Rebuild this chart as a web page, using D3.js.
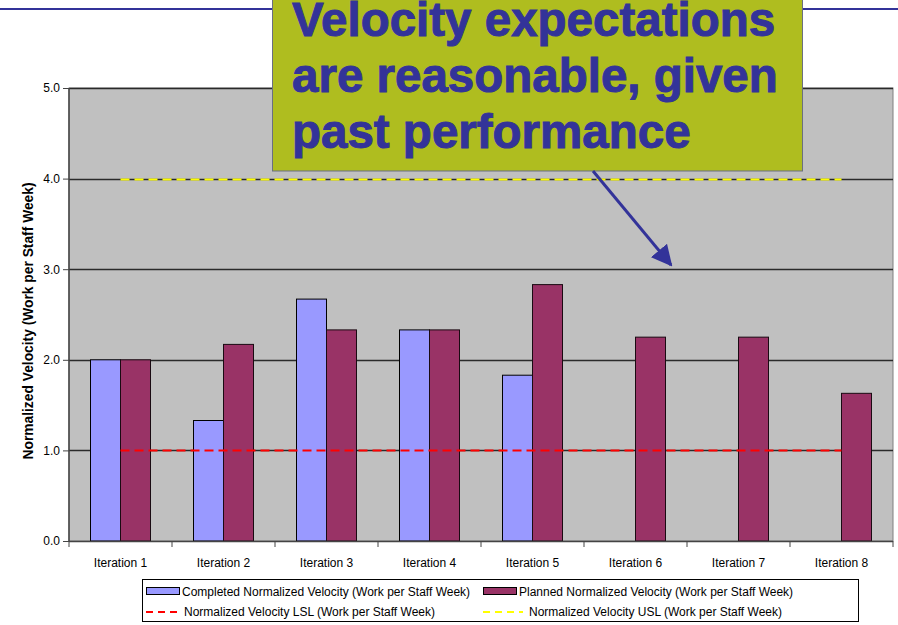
<!DOCTYPE html>
<html><head><meta charset="utf-8">
<script src="https://cdn.jsdelivr.net/npm/d3@7"></script>
<style>body{margin:0;background:#fff}svg{display:block;font-family:"Liberation Sans",Arial,sans-serif}</style>
</head><body>
<svg id="c" width="898" height="625"></svg>
<script>
const categories = ["Iteration 1","Iteration 2","Iteration 3","Iteration 4","Iteration 5","Iteration 6","Iteration 7","Iteration 8"];
const completed = [2.0, 1.33, 2.67, 2.33, 1.83, null, null, null];
const planned = [2.0, 2.17, 2.33, 2.33, 2.83, 2.25, 2.25, 1.63];
const lsl = [1,1,1,1,1,1,1,1];
const usl = [4,4,4,4,4,4,4,4];
const yTicks = [0,1,2,3,4,5];
const seriesNames = ["Completed Normalized Velocity (Work per Staff Week)","Planned Normalized Velocity (Work per Staff Week)","Normalized Velocity LSL (Work per Staff Week)","Normalized Velocity USL (Work per Staff Week)"];
const calloutLines = ["Velocity expectations","are reasonable, given","past performance"];

const svg = d3.select("#c");
const L=69, R=893, T=88, B=541;
const x = d3.scaleBand().domain(categories).range([L,R]);
const y = d3.scaleLinear().domain([0,5]).range([B,T]);
const bw = 30;

// plot bg
svg.append("rect").attr("x",L).attr("y",T).attr("width",R-L).attr("height",B-T).attr("fill","#C0C0C0").attr("stroke","#808080").attr("stroke-width",1);
// gridlines
svg.append("g").selectAll("line").data(yTicks.filter(d=>d>0)).join("line")
  .attr("x1",L).attr("x2",R).attr("y1",d=>Math.round(y(d))+0.5).attr("y2",d=>Math.round(y(d))+0.5)
  .attr("stroke","#2a2a2a").attr("stroke-width",1.4);

// bars
const g = svg.append("g");
g.selectAll("rect.c").data(categories.map((c,i)=>({c,v:completed[i]})).filter(d=>d.v!=null)).join("rect")
  .attr("x",d=>x(d.c)+x.bandwidth()/2-bw).attr("width",bw)
  .attr("y",d=>y(d.v)).attr("height",d=>B-y(d.v))
  .attr("fill","#9999FF").attr("stroke","#000").attr("stroke-width",1);
g.selectAll("rect.p").data(categories.map((c,i)=>({c,v:planned[i]}))).join("rect")
  .attr("x",d=>x(d.c)+x.bandwidth()/2).attr("width",bw)
  .attr("y",d=>y(d.v)).attr("height",d=>B-y(d.v))
  .attr("fill","#993366").attr("stroke","#1a0a12").attr("stroke-width",1);

// LSL / USL lines
const line = d3.line().x(d=>x(d.c)+x.bandwidth()/2).y(d=>Math.round(y(d.v))+0.5);
svg.append("path").datum(categories.map((c,i)=>({c,v:lsl[i]}))).attr("d",line)
  .attr("fill","none").attr("stroke","#FF0000").attr("stroke-width",2).attr("stroke-dasharray","9,5");
svg.append("path").datum(categories.map((c,i)=>({c,v:usl[i]}))).attr("d",line)
  .attr("fill","none").attr("stroke","#FFFF00").attr("stroke-width",2).attr("stroke-dasharray","9,5");

// axes
const ya = svg.append("g").attr("transform",`translate(${L},0)`)
  .call(d3.axisLeft(y).tickValues(yTicks).tickFormat(d3.format(".1f")).tickSize(6).tickPadding(3));
ya.select(".domain").attr("stroke","#444").attr("stroke-width",1.5).attr("d",`M0,${T}V${B}`);
ya.selectAll(".tick line").attr("stroke","#444");
ya.selectAll("text").attr("font-size",12).attr("fill","#000").attr("font-family","Liberation Sans, Arial");

const xa = svg.append("g").attr("transform",`translate(0,${B})`);
xa.append("line").attr("x1",L).attr("x2",R).attr("y1",0.5).attr("y2",0.5).attr("stroke","#444").attr("stroke-width",1.5);
xa.selectAll("line.t").data(d3.range(categories.length+1)).join("line")
  .attr("x1",i=>L+i*x.bandwidth()).attr("x2",i=>L+i*x.bandwidth()).attr("y1",0).attr("y2",6).attr("stroke","#444");
xa.selectAll("text").data(categories).join("text")
  .attr("x",d=>x(d)+x.bandwidth()/2).attr("y",26).attr("text-anchor","middle")
  .attr("font-size",12).attr("fill","#000").text(d=>d);

// y title
svg.append("text").attr("transform","translate(33,321) rotate(-90)").attr("text-anchor","middle")
  .attr("font-size",13.8).attr("font-weight","bold").text("Normalized Velocity (Work per Staff Week)");

// legend
const lg = svg.append("g");
lg.append("rect").attr("x",142.5).attr("y",579.5).attr("width",716).attr("height",42).attr("fill","#fff").attr("stroke","#000");
lg.append("rect").attr("x",146.5).attr("y",587.5).attr("width",33).attr("height",7).attr("fill","#9999FF").attr("stroke","#000");
lg.append("text").attr("x",182).attr("y",596).attr("font-size",12).text(seriesNames[0]);
lg.append("rect").attr("x",483.5).attr("y",587.5).attr("width",33).attr("height",7).attr("fill","#993366").attr("stroke","#000");
lg.append("text").attr("x",519).attr("y",596).attr("font-size",12).text(seriesNames[1]);
lg.append("line").attr("x1",146).attr("x2",180).attr("y1",612).attr("y2",612).attr("stroke","#FF0000").attr("stroke-width",2).attr("stroke-dasharray","7,5");
lg.append("text").attr("x",184).attr("y",616).attr("font-size",12).text(seriesNames[2]);
lg.append("line").attr("x1",483).attr("x2",523).attr("y1",612).attr("y2",612).attr("stroke","#FFFF00").attr("stroke-width",2).attr("stroke-dasharray","7,5");
lg.append("text").attr("x",529).attr("y",616).attr("font-size",12).text(seriesNames[3]);

// top rule
svg.append("line").attr("x1",0).attr("x2",898).attr("y1",9).attr("y2",9).attr("stroke","#333399").attr("stroke-width",2);

// callout
svg.append("rect").attr("x",272.5).attr("y",-5).attr("width",530).attr("height",176).attr("fill","#AFBD1F").attr("stroke","#6b6f80").attr("stroke-width",1);
svg.append("g").selectAll("text").data(calloutLines).join("text")
  .attr("x",292).attr("y",(d,i)=>36+i*56).attr("font-size",47.5).attr("font-weight","bold")
  .attr("font-family","Liberation Sans, Arial, sans-serif")
  .attr("fill","#333399").attr("stroke","#333399").attr("stroke-width",1).text(d=>d);

// arrow
svg.append("defs").append("marker").attr("id","ah").attr("viewBox","0 0 10 10").attr("refX",9).attr("refY",5)
  .attr("markerWidth",7).attr("markerHeight",7).attr("markerUnits","strokeWidth").attr("orient","auto")
  .append("path").attr("d","M0,0L10,5L0,10z").attr("fill","#333399");
svg.append("line").attr("x1",593).attr("y1",171).attr("x2",671).attr("y2",265)
  .attr("stroke","#333399").attr("stroke-width",3).attr("marker-end","url(#ah)");
</script>
</body></html>
